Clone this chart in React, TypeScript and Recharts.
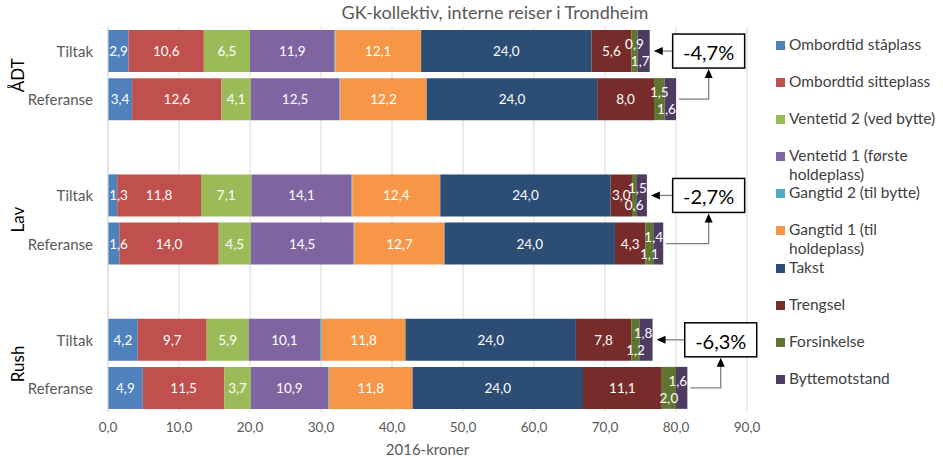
import React from 'react';
import { BarChart, Bar, XAxis, YAxis, CartesianGrid, LabelList, ReferenceLine } from 'recharts';

// categories
const groups = ['ÅDT', 'Lav', 'Rush'];
const scenarios = ['Tiltak', 'Referanse'];

// series (rows: ÅDT Tiltak, ÅDT Referanse, Lav Tiltak, Lav Referanse, Rush Tiltak, Rush Referanse)
const ombordStaaplass = [2.9, 3.4, 1.3, 1.6, 4.2, 4.9];
const ombordSitteplass = [10.6, 12.6, 11.8, 14.0, 9.7, 11.5];
const ventetid2 = [6.5, 4.1, 7.1, 4.5, 5.9, 3.7];
const ventetid1 = [11.9, 12.5, 14.1, 14.5, 10.1, 10.9];
const gangtid2 = [0.1, 0.1, 0.1, 0.1, 0.2, 0.1];
const gangtid1 = [12.1, 12.2, 12.4, 12.7, 11.8, 11.8];
const takst = [24.0, 24.0, 24.0, 24.0, 24.0, 24.0];
const trengsel = [5.6, 8.0, 3.0, 4.3, 7.8, 11.1];
const forsinkelse = [0.9, 1.5, 0.6, 1.1, 1.2, 2.0];
const byttemotstand = [1.7, 1.6, 1.5, 1.4, 1.8, 1.6];

const seriesNames = [
  'Ombordtid ståplass',
  'Ombordtid sitteplass',
  'Ventetid 2 (ved bytte)',
  'Ventetid 1 (første\nholdeplass)',
  'Gangtid 2 (til bytte)',
  'Gangtid 1 (til\nholdeplass)',
  'Takst',
  'Trengsel',
  'Forsinkelse',
  'Byttemotstand',
];
const seriesColors = [
  '#4F81BD', '#C0504D', '#9BBB59', '#8064A2', '#4BACC6',
  '#F79646', '#2C4D75', '#772C2A', '#5F7530', '#4D3B62',
];
const seriesValues = [
  ombordStaaplass, ombordSitteplass, ventetid2, ventetid1, gangtid2,
  gangtid1, takst, trengsel, forsinkelse, byttemotstand,
];

const changeLabels = ['-4,7%', '-2,7%', '-6,3%'];
const calloutX = [84.6, 84.6, 86.3];
const xTicks = [0, 10, 20, 30, 40, 50, 60, 70, 80, 90];

const fmt = (v: number) => v.toFixed(1).replace('.', ',');

const rows: any[] = [];
const totals: number[] = [];
groups.forEach((g, gi) => {
  scenarios.forEach((s, si) => {
    const idx = gi * 2 + si;
    const row: any = { key: `${g}|${s}`, group: g, scenario: s };
    let sum = 0;
    seriesValues.forEach((vals, k) => {
      row[`s${k}`] = vals[idx];
      sum += vals[idx];
    });
    totals.push(sum);
    rows.push(row);
  });
  if (gi < groups.length - 1) rows.push({ key: `gap${gi}` });
});

const BOX_W = 72;
const BOX_H = 34;
const LABEL_SIZE = 13.5;

function ArrowBox(props: any) {
  const { x1, y1, x2, y2, text } = props;
  const left = x2 - BOX_W / 2;
  const tip = x1 + 4;
  return (
    <g>
      <line x1={left} y1={y1} x2={tip + 8} y2={y1} stroke="#7f7f7f" strokeWidth={1.3} />
      <path d={`M${tip},${y1} L${tip + 9},${y1 - 4} L${tip + 9},${y1 + 4} Z`} fill="#000" />
      <rect x={left} y={y2 - BOX_H / 2} width={BOX_W} height={BOX_H} fill="#fff" stroke="#000" strokeWidth={1.5} />
      <text x={x2} y={y2 + 1} textAnchor="middle" dominantBaseline="central" fontSize={20} fill="#000">
        {text}
      </text>
    </g>
  );
}

function Elbow(props: any) {
  const { x1, y1, x2, y2 } = props;
  const tipY = y2 + BOX_H / 2 + 1;
  return (
    <g>
      <path d={`M${x1 + 3},${y1} H${x2} V${tipY + 8}`} fill="none" stroke="#7f7f7f" strokeWidth={1.3} />
      <path d={`M${x2},${tipY} L${x2 - 4},${tipY + 9} L${x2 + 4},${tipY + 9} Z`} fill="#000" />
    </g>
  );
}

function CategoryTick(props: any) {
  const { x, y, payload } = props;
  const key = String(payload.value);
  if (!key.includes('|')) return <g />;
  const [g, s] = key.split('|');
  return (
    <g>
      <text x={x} y={y} textAnchor="end" dominantBaseline="central" fontSize={15} fill="#595959">
        {s}
      </text>
      {s === 'Referanse' && (
        <text
          transform={`translate(17, ${y - 24}) rotate(-90)`}
          textAnchor="middle"
          dominantBaseline="central"
          fontSize={17}
          fill="#000"
        >
          {g}
        </text>
      )}
    </g>
  );
}

const textWidth = (s: string) =>
  s.split('').reduce((w, c) => w + (c === ',' ? 0.25 : 0.58) * LABEL_SIZE, 0);

const makeLabel = (k: number) => (props: any) => {
  const { x, y, width, height, value, index } = props;
  if (value == null || k === 4) return null;
  const row = rows[index] || {};
  const txt = fmt(value);
  const w = textWidth(txt);
  let cx = x + width / 2;
  let dy = 0;
  if (k === 0) cx = Math.max(cx, x + w / 2 + 1);
  if (k === 8) dy = row.group === 'ÅDT' ? -7 : 10;
  if (k === 9) {
    dy = row.group === 'ÅDT' ? 10 : -7;
    cx = Math.min(cx, x + width - w / 2);
  }
  return (
    <text
      x={cx}
      y={y + height / 2 + dy}
      fill="#fff"
      fontSize={LABEL_SIZE}
      textAnchor="middle"
      dominantBaseline="central"
    >
      {txt}
    </text>
  );
};

function LegendBox() {
  return (
    <div style={{ position: 'absolute', left: 776, top: 35, fontSize: 15.5, color: '#404040' }}>
      {seriesNames.map((name, i) => (
        <div key={name} style={{ height: 37.1, display: 'flex', alignItems: 'flex-start' }}>
          <span
            style={{
              display: 'inline-block',
              width: 9,
              height: 9,
              background: seriesColors[i],
              marginTop: 6,
              marginRight: 4,
              flex: 'none',
            }}
          />
          <span style={{ whiteSpace: 'pre', lineHeight: '19px' }}>{name}</span>
        </div>
      ))}
    </div>
  );
}

export default function App() {
  return (
    <div
      style={{
        position: 'relative',
        width: 943,
        height: 458,
        background: '#fff',
        fontFamily: 'Lato, "Open Sans", sans-serif',
      }}
    >
      <style>{'body{margin:0}'}</style>
      <div
        style={{
          position: 'absolute',
          left: 0,
          width: 990,
          top: 1,
          textAlign: 'center',
          fontSize: 18,
          color: '#595959',
        }}
      >
        GK-kollektiv, interne reiser i Trondheim
      </div>
      <BarChart
        width={943}
        height={458}
        data={rows}
        layout="vertical"
        margin={{ top: 27, right: 196, bottom: 0, left: 0 }}
        barSize={42}
      >
        <CartesianGrid horizontal={false} stroke="#d9d9d9" />
        <XAxis
          type="number"
          domain={[0, 90]}
          ticks={xTicks}
          tickFormatter={fmt}
          axisLine={false}
          tickLine={false}
          tickSize={0}
          tickMargin={10}
          height={46}
          tick={{ fill: '#595959', fontSize: 13.5 }}
          label={{ value: '2016-kroner', position: 'insideBottom', offset: 3, fill: '#595959', fontSize: 15 }}
        />
        <YAxis
          type="category"
          dataKey="key"
          width={108}
          interval={0}
          axisLine={{ stroke: '#d9d9d9' }}
          tickLine={false}
          tickSize={0}
          tickMargin={15}
          tick={<CategoryTick />}
        />
        {seriesNames.map((name, k) => (
          <Bar
            key={name}
            dataKey={`s${k}`}
            name={name}
            stackId="a"
            fill={seriesColors[k]}
            isAnimationActive={false}
          >
            <LabelList dataKey={`s${k}`} content={makeLabel(k)} />
          </Bar>
        ))}
        {groups.map((g, gi) => (
          <ReferenceLine
            key={`arrow-${g}`}
            segment={[
              { x: totals[gi * 2], y: `${g}|Tiltak` },
              { x: calloutX[gi], y: `${g}|Tiltak` },
            ]}
            shape={(p: any) => <ArrowBox {...p} text={changeLabels[gi]} />}
          />
        ))}
        {groups.map((g, gi) => (
          <ReferenceLine
            key={`elbow-${g}`}
            segment={[
              { x: totals[gi * 2 + 1], y: `${g}|Referanse` },
              { x: calloutX[gi], y: `${g}|Tiltak` },
            ]}
            shape={(p: any) => <Elbow {...p} />}
          />
        ))}
      </BarChart>
      <LegendBox />
    </div>
  );
}
